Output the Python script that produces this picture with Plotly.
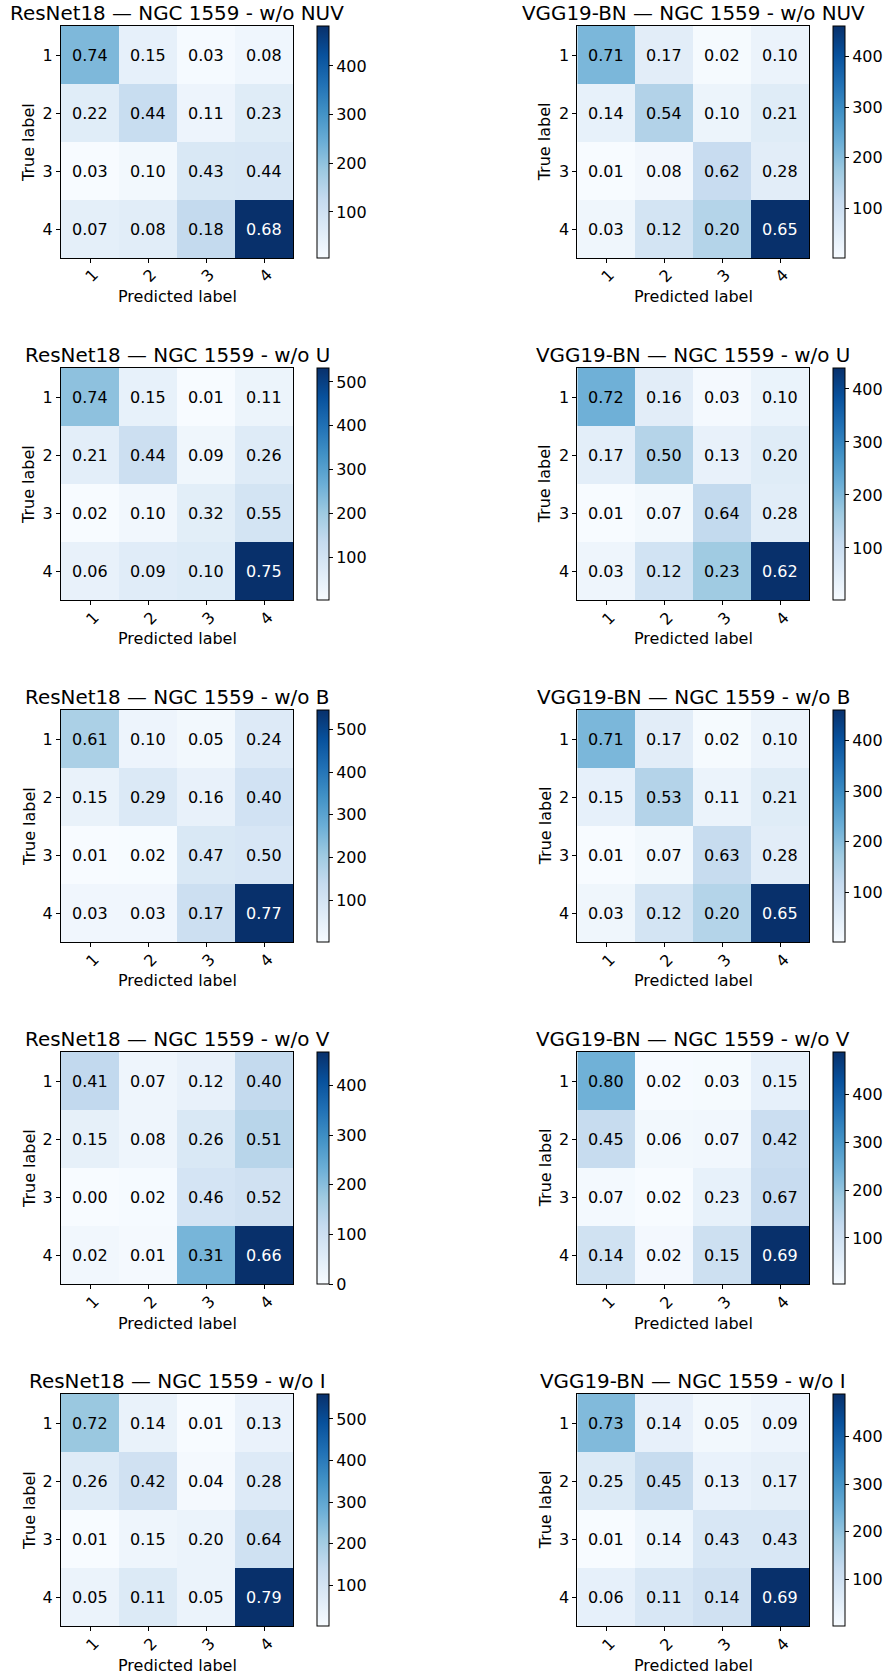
import plotly.graph_objects as go

# Class labels shared by every matrix
classes = ["1", "2", "3", "4"]

# Number of test samples per true class (rows)
class_support = [300, 270, 180, 709]

# Row-normalised confusion matrices, one per removed band
resnet_nuv = [[0.74, 0.15, 0.03, 0.08], [0.22, 0.44, 0.11, 0.23], [0.03, 0.10, 0.43, 0.44], [0.07, 0.08, 0.18, 0.68]]
resnet_u = [[0.74, 0.15, 0.01, 0.11], [0.21, 0.44, 0.09, 0.26], [0.02, 0.10, 0.32, 0.55], [0.06, 0.09, 0.10, 0.75]]
resnet_b = [[0.61, 0.10, 0.05, 0.24], [0.15, 0.29, 0.16, 0.40], [0.01, 0.02, 0.47, 0.50], [0.03, 0.03, 0.17, 0.77]]
resnet_v = [[0.41, 0.07, 0.12, 0.40], [0.15, 0.08, 0.26, 0.51], [0.00, 0.02, 0.46, 0.52], [0.02, 0.01, 0.31, 0.66]]
resnet_i = [[0.72, 0.14, 0.01, 0.13], [0.26, 0.42, 0.04, 0.28], [0.01, 0.15, 0.20, 0.64], [0.05, 0.11, 0.05, 0.79]]

vgg_nuv = [[0.71, 0.17, 0.02, 0.10], [0.14, 0.54, 0.10, 0.21], [0.01, 0.08, 0.62, 0.28], [0.03, 0.12, 0.20, 0.65]]
vgg_u = [[0.72, 0.16, 0.03, 0.10], [0.17, 0.50, 0.13, 0.20], [0.01, 0.07, 0.64, 0.28], [0.03, 0.12, 0.23, 0.62]]
vgg_b = [[0.71, 0.17, 0.02, 0.10], [0.15, 0.53, 0.11, 0.21], [0.01, 0.07, 0.63, 0.28], [0.03, 0.12, 0.20, 0.65]]
vgg_v = [[0.80, 0.02, 0.03, 0.15], [0.45, 0.06, 0.07, 0.42], [0.07, 0.02, 0.23, 0.67], [0.14, 0.02, 0.15, 0.69]]
vgg_i = [[0.73, 0.14, 0.05, 0.09], [0.25, 0.45, 0.13, 0.17], [0.01, 0.14, 0.43, 0.43], [0.06, 0.11, 0.14, 0.69]]

bands = ["NUV", "U", "B", "V", "I"]
models = ["ResNet18", "VGG19-BN"]
matrices = [
    [resnet_nuv, vgg_nuv],
    [resnet_u, vgg_u],
    [resnet_b, vgg_b],
    [resnet_v, vgg_v],
    [resnet_i, vgg_i],
]

# matplotlib "Blues"
blues = [
    [0.0, "#f7fbff"], [0.125, "#deebf7"], [0.25, "#c6dbef"], [0.375, "#9ecae1"],
    [0.5, "#6baed6"], [0.625, "#4292c6"], [0.75, "#2171b5"], [0.875, "#08519c"],
    [1.0, "#08306b"],
]

W, H = 891, 1677
FONT = "DejaVu Sans"
CELL = 232.0           # heatmap side, px
TOP0 = 26.0            # top of first row of heatmaps, px
ROW_STEP = 342.0       # vertical spacing between rows, px
LEFTS = [61.0, 577.3]  # heatmap left edges, px
CBAR_X = [316.7, 832.7]


def px_x(x):
    return x / W


def px_y(y):
    return 1 - y / H


fig = go.Figure()
annotations = []
layout = {}

k = 0
for r, band in enumerate(bands):
    top = TOP0 + ROW_STEP * r
    for c, model in enumerate(models):
        k += 1
        norm = matrices[r][c]
        counts = [[v * class_support[i] for v in row] for i, row in enumerate(norm)]
        cmax = max(max(row) for row in counts)
        left = LEFTS[c]
        xa = "x" if k == 1 else f"x{k}"
        ya = "y" if k == 1 else f"y{k}"
        fig.add_trace(go.Heatmap(
            z=counts,
            x=[0, 1, 2, 3],
            y=[0, 1, 2, 3],
            xaxis=xa, yaxis=ya,
            colorscale=blues,
            hoverinfo="skip",
            colorbar=dict(
                x=px_x(CBAR_X[c]), xanchor="left", xpad=0,
                y=px_y(top), yanchor="top", ypad=0,
                len=CELL, lenmode="pixels",
                thickness=11.6, thicknessmode="pixels",
                outlinewidth=1, outlinecolor="black",
                ticks="outside", ticklen=4, tickwidth=1, tickcolor="black",
                tick0=0, dtick=100,
                tickfont=dict(family=FONT, size=16, color="black"),
            ),
        ))
        axis_common = dict(
            showline=True, linecolor="black", linewidth=1, mirror=True,
            ticks="outside", ticklen=4, tickwidth=1, tickcolor="black",
            tickvals=[0, 1, 2, 3], ticktext=classes,
            tickfont=dict(family=FONT, size=16, color="black"),
            showgrid=False, zeroline=False, fixedrange=True,
        )
        layout["xaxis" if k == 1 else f"xaxis{k}"] = dict(
            axis_common,
            domain=[px_x(left), px_x(left + CELL)],
            anchor=ya, range=[-0.5, 3.5], showticklabels=False,
        )
        layout["yaxis" if k == 1 else f"yaxis{k}"] = dict(
            axis_common,
            domain=[px_y(top + CELL), px_y(top)],
            anchor=xa, range=[3.5, -0.5],
        )
        # cell values
        for i in range(4):
            for j in range(4):
                annotations.append(dict(
                    x=j, y=i, xref=xa, yref=ya,
                    text=f"{norm[i][j]:.2f}", showarrow=False,
                    font=dict(family=FONT, size=16,
                              color="white" if counts[i][j] > cmax / 2 else "black"),
                ))
        # rotated class labels under the x axis
        for j, lab in enumerate(classes):
            annotations.append(dict(
                x=j, y=px_y(top + CELL + 18), xref=xa, yref="paper",
                text=lab, showarrow=False, textangle=-45, xshift=2,
                xanchor="center", yanchor="middle",
                font=dict(family=FONT, size=16, color="black"),
            ))
        # panel title
        annotations.append(dict(
            x=px_x(left + CELL / 2), y=px_y(top - 12.5), xref="paper", yref="paper",
            text=f"{model} — NGC 1559 - w/o {band}", showarrow=False,
            xanchor="center", yanchor="middle",
            font=dict(family=FONT, size=19.9, color="black"),
        ))
        # axis titles
        annotations.append(dict(
            x=px_x(left + CELL / 2), y=px_y(top + 271), xref="paper", yref="paper",
            text="Predicted label", showarrow=False,
            xanchor="center", yanchor="middle",
            font=dict(family=FONT, size=16, color="black"),
        ))
        annotations.append(dict(
            x=px_x(left - 32), y=px_y(top + CELL / 2), xref="paper", yref="paper",
            text="True label", showarrow=False, textangle=-90,
            xanchor="center", yanchor="middle",
            font=dict(family=FONT, size=16, color="black"),
        ))

fig.update_layout(
    width=W, height=H,
    margin=dict(l=0, r=0, t=0, b=0),
    paper_bgcolor="white", plot_bgcolor="white",
    showlegend=False,
    annotations=annotations,
    font=dict(family=FONT, color="black"),
    **layout,
)

fig.write_html("out.html")
